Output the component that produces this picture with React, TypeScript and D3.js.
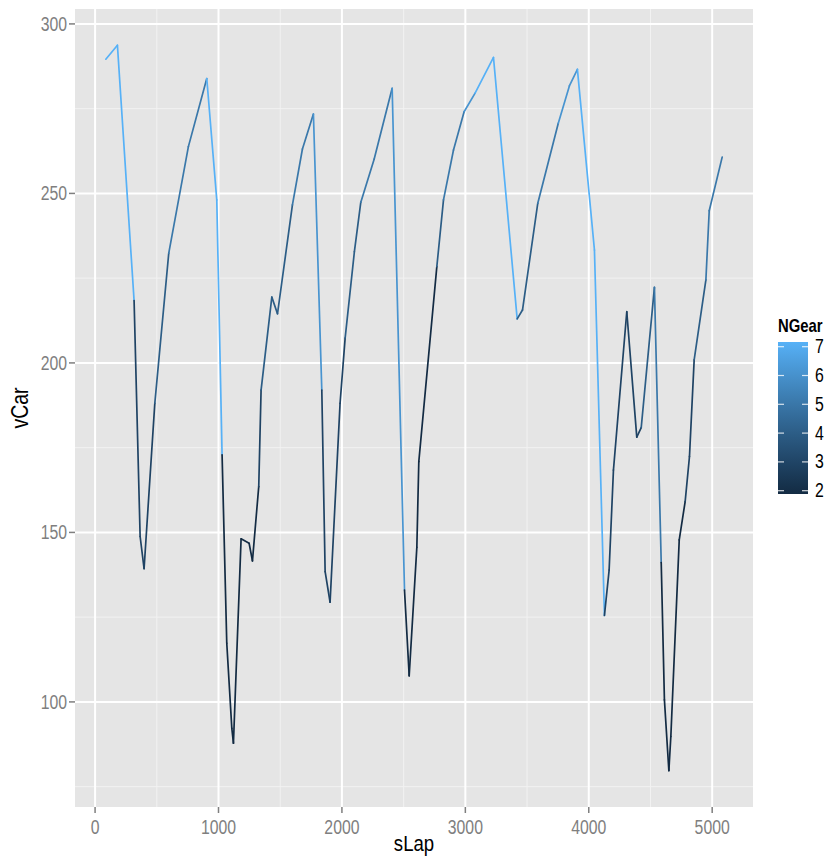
import React from "react";
import * as d3 from "d3";

const sLap = [87, 181, 316, 365, 397, 484, 597, 756, 905, 986, 1029, 1067, 1108, 1121, 1183, 1248, 1275, 1326, 1345, 1432, 1478, 1599, 1680, 1769, 1837, 1864, 1904, 1985, 2026, 2101, 2153, 2261, 2407, 2507, 2545, 2607, 2623, 2769, 2823, 2904, 2990, 3079, 3228, 3420, 3463, 3587, 3753, 3843, 3908, 4046, 4127, 4165, 4200, 4308, 4389, 4425, 4532, 4587, 4613, 4649, 4665, 4733, 4781, 4816, 4854, 4949, 4976, 5081];
const vCar = [289.6, 293.7, 218.4, 148.8, 139.3, 188.1, 232.4, 263.8, 283.9, 248.1, 172.9, 117.3, 92.2, 87.8, 148.1, 146.8, 141.6, 163.5, 192.0, 219.4, 214.5, 246.6, 263.1, 273.4, 192.0, 138.4, 129.4, 188.1, 207.3, 232.8, 247.4, 260.1, 281.0, 133.0, 107.7, 145.6, 170.9, 228.4, 248.1, 262.8, 274.1, 279.6, 290.1, 213.0, 215.6, 247.1, 270.7, 281.7, 286.6, 233.3, 125.5, 138.9, 168.4, 215.1, 178.1, 180.9, 222.3, 141.1, 100.6, 79.7, 89.8, 147.8, 159.1, 172.4, 200.9, 224.5, 244.9, 260.7];
const nGear = [7, 7, 3, 3, 3, 4, 5, 5, 7, 7, 2, 2, 2, 2, 2, 2, 2, 3, 4, 4, 4, 5, 5, 6, 3, 3, 3, 3, 4, 4, 5, 5, 6, 2, 2, 2, 2, 4, 5, 5, 6, 7, 7, 4, 4, 5, 6, 6, 7, 7, 3, 3, 3, 3, 3, 4, 5, 2, 2, 2, 2, 2, 3, 3, 4, 5, 5, 5];

const xTicks = [0, 1000, 2000, 3000, 4000, 5000];
const xMinor = [500, 1500, 2500, 3500, 4500];
const yTicks = [100, 150, 200, 250, 300];
const yMinor = [75, 125, 175, 225, 275];
const gearTicks = [2, 3, 4, 5, 6, 7];

const FONT = "'Liberation Sans', Arial, Helvetica, sans-serif";

function T(props: { x: number; y: number; size: number; anchor?: string; fill?: string; bold?: boolean; children: React.ReactNode; sx?: number; sy?: number }) {
  const sx = props.sx ?? 0.93, sy = props.sy ?? 1.14;
  return (
    <text
      transform={`translate(${props.x},${props.y}) scale(${sx},${sy})`}
      textAnchor={props.anchor ?? "start"}
      fontSize={props.size}
      fontWeight={props.bold ? "bold" : "normal"}
      fill={props.fill ?? "#000"}
    >
      {props.children}
    </text>
  );
}

export default function App() {
  const W = 834, H = 858;
  const left = 75, right = 753, top = 9, bottom = 807;

  const xExt = d3.extent(sLap) as [number, number];
  const yExt = d3.extent(vCar) as [number, number];
  const xPad = (xExt[1] - xExt[0]) * 0.05;
  const yPad = (yExt[1] - yExt[0]) * 0.05;
  const x = d3.scaleLinear().domain([xExt[0] - xPad, xExt[1] + xPad]).range([left, right]);
  const y = d3.scaleLinear().domain([yExt[0] - yPad, yExt[1] + yPad]).range([bottom, top]);
  const col = d3.scaleLinear<string>().domain([2, 7]).range(["#132B43", "#56B1F7"]).interpolate(d3.interpolateLab);

  const barX = 778, barW = 30, barTop = 342, barBot = 494;
  const g = d3.scaleLinear().domain([2, 7]).range([490.7, 346.7]);
  const stops = d3.range(0, 1.0001, 0.1).map((t) => ({ t, c: col(7 - t * 5) }));

  const segs = sLap.slice(0, -1).map((s, i) => ({
    x1: x(s), y1: y(vCar[i]), x2: x(sLap[i + 1]), y2: y(vCar[i + 1]), c: col(nGear[i]),
  }));

  return (
    <svg width={W} height={H} style={{ display: "block", position: "absolute", left: 0, top: 0 }} fontFamily={FONT}>
      <rect width={W} height={H} fill="#ffffff" />
      <rect x={left} y={top} width={right - left} height={bottom - top} fill="#E5E5E5" />
      {xMinor.map((v) => (
        <line key={"xm" + v} x1={x(v)} x2={x(v)} y1={top} y2={bottom} stroke="#F2F2F2" strokeWidth={1} />
      ))}
      {yMinor.map((v) => (
        <line key={"ym" + v} x1={left} x2={right} y1={y(v)} y2={y(v)} stroke="#F2F2F2" strokeWidth={1} />
      ))}
      {xTicks.map((v) => (
        <line key={"xg" + v} x1={x(v)} x2={x(v)} y1={top} y2={bottom} stroke="#ffffff" strokeWidth={2} />
      ))}
      {yTicks.map((v) => (
        <line key={"yg" + v} x1={left} x2={right} y1={y(v)} y2={y(v)} stroke="#ffffff" strokeWidth={2} />
      ))}
      {segs.map((s, i) => (
        <line key={"s" + i} x1={s.x1} y1={s.y1} x2={s.x2} y2={s.y2} stroke={s.c} strokeWidth={1.7} strokeLinecap="round" />
      ))}
      {xTicks.map((v) => (
        <g key={"xt" + v}>
          <line x1={x(v)} x2={x(v)} y1={bottom} y2={bottom + 6} stroke="#7F7F7F" strokeWidth={1.5} />
          <T x={x(v)} y={834} anchor="middle" size={17} fill="#7F7F7F">{v}</T>
        </g>
      ))}
      {yTicks.map((v) => (
        <g key={"yt" + v}>
          <line x1={left - 6} x2={left} y1={y(v)} y2={y(v)} stroke="#7F7F7F" strokeWidth={1.5} />
          <T x={67} y={y(v) + 7} anchor="end" size={17} fill="#7F7F7F">{v}</T>
        </g>
      ))}
      <T x={(left + right) / 2} y={851} anchor="middle" size={20}>sLap</T>
      <text transform={`translate(28,${(top + bottom) / 2}) rotate(-90) scale(0.93,1.14)`} textAnchor="middle" fontSize={21} fill="#000">vCar</text>

      <defs>
        <linearGradient id="gearGrad" x1="0" y1="0" x2="0" y2="1">
          {stops.map((s) => (
            <stop key={s.t} offset={s.t} stopColor={s.c} />
          ))}
        </linearGradient>
      </defs>
      <T x={778} y={332} size={16} bold>NGear</T>
      <rect x={barX} y={barTop} width={barW} height={barBot - barTop} fill="url(#gearGrad)" />
      {gearTicks.map((v) => (
        <g key={"gt" + v}>
          <line x1={barX} x2={barX + 6} y1={g(v)} y2={g(v)} stroke="#ffffff" strokeOpacity={0.8} strokeWidth={1.2} />
          <line x1={barX + barW - 6} x2={barX + barW} y1={g(v)} y2={g(v)} stroke="#ffffff" strokeOpacity={0.8} strokeWidth={1.2} />
          <T x={815} y={g(v) + 6.5} size={17}>{v}</T>
        </g>
      ))}
    </svg>
  );
}
